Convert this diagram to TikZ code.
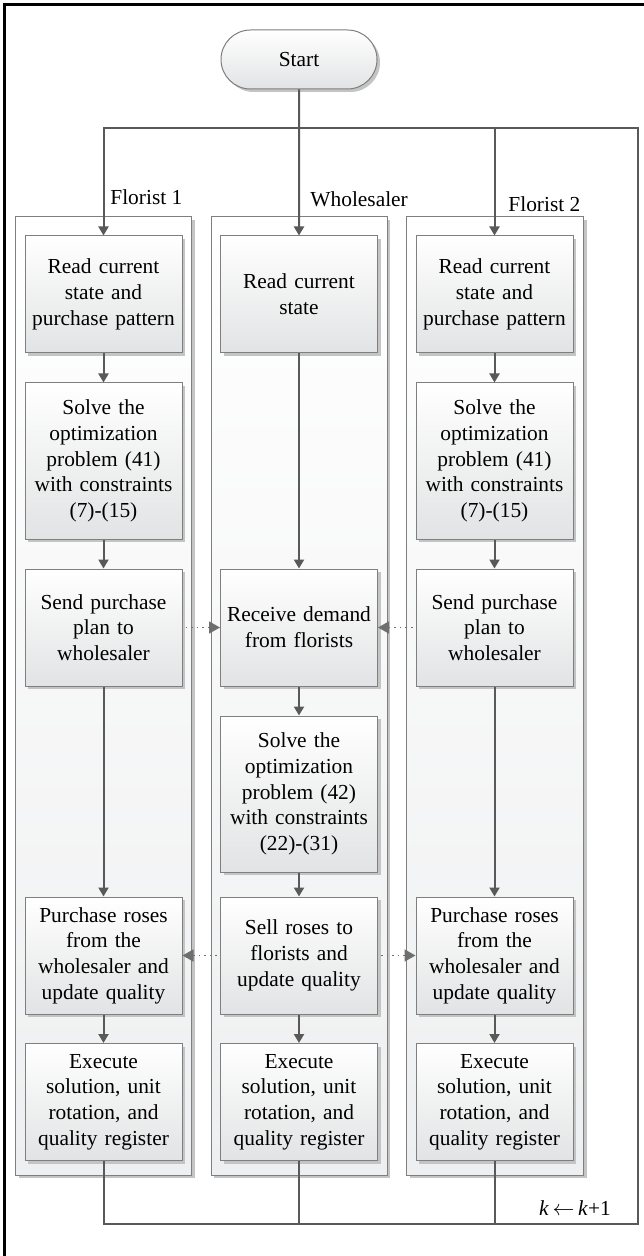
\documentclass[tikz,border=0pt]{standalone}
\usepackage{fontspec}
\setmainfont{Liberation Serif}
\usepackage{tikz}
\usetikzlibrary{positioning, arrows.meta, shapes.misc, shadows}
\definecolor{box_line}{HTML}{7F7F7F}
\definecolor{box_bg}{HTML}{E2E3E4}
\definecolor{lane_bg}{HTML}{EEEFF0}
\definecolor{shade_gray}{HTML}{C4C4C4}
\definecolor{flow_gray}{HTML}{595959}
\definecolor{dot_gray}{HTML}{6E6E6E}

\begin{document}
\begin{tikzpicture}[x=0.5pt, y=-0.5pt,
    % Stili per le corsie e i blocchi
    lane/.style = {
        draw=box_line,
        line width=0.5pt,
        top color=white,
        bottom color=lane_bg,
        drop shadow={shadow xshift=1.5pt, shadow yshift=-1.5pt, fill=shade_gray, opacity=1}
    },
    stepbox/.style = {
        rectangle,
        draw=box_line,
        line width=0.5pt,
        top color=white,
        bottom color=box_bg,
        drop shadow={shadow xshift=1.5pt, shadow yshift=-1.5pt, fill=shade_gray, opacity=1},
        minimum width=78.5pt,
        minimum height=58.5pt,
        text width=74pt,
        align=center,
        inner sep=0pt,
        font=\fontsize{10.7}{12.85}\selectfont
    },
    tallbox/.style = {
        stepbox,
        minimum height=78pt
    },
    lbl/.style = {
        anchor=west,
        inner sep=0pt,
        font=\fontsize{10.7}{12.85}\selectfont
    },
    flow/.style = {
        draw=flow_gray,
        line width=1pt,
        -{Triangle[length=4.5pt, width=5pt]}
    },
    link/.style = {
        draw=flow_gray,
        line width=1pt
    },
    msg/.style = {
        draw=dot_gray,
        line width=0.8pt,
        dash pattern=on 0.8pt off 2pt,
        shorten <=1.5pt,
        -{Triangle[length=5.5pt, width=6pt]}
    }
]
\useasboundingbox (0,0) rectangle (643,1256);

% 1. Cornice esterna
\draw[line width=1.5pt] (4.5,1270) -- (4.5,4.5) -- (660,4.5);

% 2. Corsie
\draw[lane] (15.5,217) rectangle (191.5,1175);
\draw[lane] (211,217) rectangle (387,1175);
\draw[lane] (406.5,217) rectangle (583.5,1175);

% 3. Blocchi
\node[stepbox, rounded rectangle, minimum width=78pt, minimum height=29.5pt, text width=] (start) at (299,59.5) {Start};

% Florist 1
\node[stepbox] (rd1) at (103.5,294.5) {Read current\\state and\\purchase pattern};
\node[tallbox] (slv1) at (103.5,461) {Solve the\\optimization\\problem (41)\\with constraints\\(7)-(15)};
\node[stepbox] (snd1) at (103.5,627.5) {Send purchase\\plan to\\wholesaler};
\node[stepbox] (buy1) at (103.5,955.5) {Purchase roses\\from the\\wholesaler and\\update quality};
\node[stepbox] (ex1) at (103.5,1102) {Execute\\solution, unit\\rotation, and\\quality register};

% Wholesaler
\node[stepbox] (rd2) at (299,294.5) {Read current\\state};
\node[stepbox] (rcv) at (299,627.5) {Receive demand\\from florists};
\node[tallbox] (slvw) at (299,794) {Solve the\\optimization\\problem (42)\\with constraints\\(22)-(31)};
\node[stepbox] (sell) at (299,955.5) {Sell roses to\\florists and\\update quality};
\node[stepbox] (ex2) at (299,1102) {Execute\\solution, unit\\rotation, and\\quality register};

% Florist 2
\node[stepbox] (rd3) at (494.5,294.5) {Read current\\state and\\purchase pattern};
\node[tallbox] (slv3) at (494.5,461) {Solve the\\optimization\\problem (41)\\with constraints\\(7)-(15)};
\node[stepbox] (snd3) at (494.5,627.5) {Send purchase\\plan to\\wholesaler};
\node[stepbox] (buy3) at (494.5,955.5) {Purchase roses\\from the\\wholesaler and\\update quality};
\node[stepbox] (ex3) at (494.5,1102) {Execute\\solution, unit\\rotation, and\\quality register};

% 4. Etichette
\node[lbl] (nf1) at (110,197) {Florist 1};
\node[lbl] (nw) at (310,199) {Wholesaler};
\node[lbl] (nf2) at (508,204) {Florist 2};
\node[lbl, anchor=center] (step) at (575,1208) {\textit{k}$\,\leftarrow\,$\textit{k}+1};

% 5. Collegamenti
\coordinate (hub) at (299,128);
\coordinate (loop) at (637.5,1224);
\draw[flow] (start) -- (rd2);
\draw[flow] (hub) -| (rd1);
\draw[flow] (hub) -| (rd3);

\draw[flow] (rd1) -- (slv1);
\draw[flow] (slv1) -- (snd1);
\draw[flow] (snd1) -- (buy1);
\draw[flow] (buy1) -- (ex1);

\draw[flow] (rd2) -- (rcv);
\draw[flow] (rcv) -- (slvw);
\draw[flow] (slvw) -- (sell);
\draw[flow] (sell) -- (ex2);

\draw[flow] (rd3) -- (slv3);
\draw[flow] (slv3) -- (snd3);
\draw[flow] (snd3) -- (buy3);
\draw[flow] (buy3) -- (ex3);

% Messaggi tra i partecipanti
\draw[msg] (snd1) -- (rcv);
\draw[msg] (snd3) -- (rcv);
\draw[msg] (sell) -- (buy1);
\draw[msg] (sell) -- (buy3);

% Ritorno k+1
\draw[link] (ex1.south) |- (loop) |- (hub);
\draw[link] (ex2.south) -- (ex2 |- loop);
\draw[link] (ex3.south) -- (ex3 |- loop);

\end{tikzpicture}
\end{document}
